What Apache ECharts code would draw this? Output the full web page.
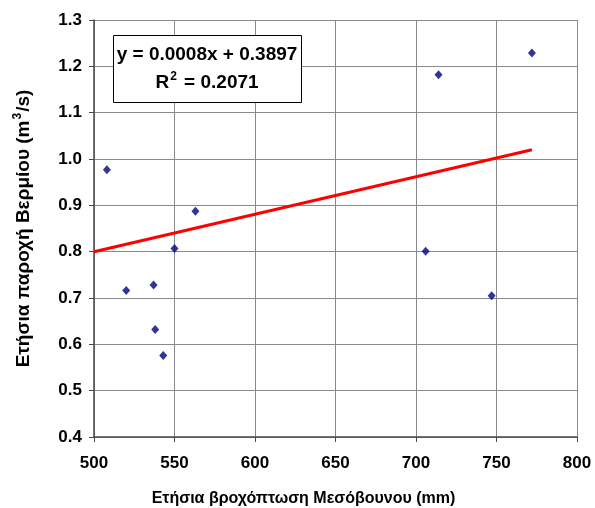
<!DOCTYPE html>
<html>
<head>
<meta charset="utf-8">
<script src="https://cdn.jsdelivr.net/npm/echarts@6/dist/echarts.min.js"></script>
<style>
html,body{margin:0;padding:0;background:#fff;}
#chart{width:595px;height:508px;}
</style>
</head>
<body>
<div id="chart"></div>
<script>
// Data
var rainfall = [508, 520, 537, 538, 543, 550, 563, 706, 714, 747, 772];
var discharge = [0.977, 0.716, 0.728, 0.632, 0.576, 0.807, 0.887, 0.801, 1.182, 0.705, 1.229];
// Trendline end points (as drawn in the reference)
var trendX = [500, 772];
var trendY = [0.80, 1.02];
var equationText = 'y = 0.0008x + 0.3897';
var r2Text = '{n|R}{s|2}{n| = 0.2071}';
var xTitle = 'Ετήσια βροχόπτωση Μεσόβουνου (mm)';
var yTitle = '{n|Ετήσια παροχή Βερμίου (m}{s|3}{n|/s)}';

var FONT = '"Liberation Sans", Arial, sans-serif';

var chart = echarts.init(document.getElementById('chart'), null, {renderer: 'canvas'});

var gridStyle = {show: true, lineStyle: {color: '#8a8a8a', width: 1, type: 'solid'}};

var option = {
  backgroundColor: '#ffffff',
  animation: false,
  grid: {left: 94, right: 18, top: 20, bottom: 71, containLabel: false, outerBoundsMode: 'none'},
  xAxis: {
    type: 'value', min: 500, max: 800, interval: 50,
    name: xTitle, nameLocation: 'middle', nameGap: 54,
    nameTextStyle: {fontFamily: FONT, fontWeight: 'bold', fontSize: 16, color: '#000', padding: [0, 64, 0, 0]},
    axisLine: {show: true, lineStyle: {color: '#4a4a4a', width: 1.5}},
    axisTick: {show: true, inside: false, length: 5, lineStyle: {color: '#4a4a4a', width: 1}},
    axisLabel: {fontFamily: FONT, fontWeight: 'bold', fontSize: 17, color: '#000', margin: 18},
    splitLine: gridStyle
  },
  yAxis: {
    type: 'value', min: 0.4, max: 1.3, interval: 0.1,
    name: yTitle, nameLocation: 'middle', nameGap: 58, nameRotate: 90,
    nameTextStyle: {fontFamily: FONT, fontWeight: 'bold', fontSize: 19, color: '#000',
      rich: {
        n: {fontFamily: FONT, fontWeight: 'bold', fontSize: 19, color: '#000', lineHeight: 24},
        s: {fontFamily: FONT, fontWeight: 'bold', fontSize: 12, color: '#000', lineHeight: 24,
            padding: [0, 1, 12, 1]}
      }},
    axisLine: {show: true, lineStyle: {color: '#4a4a4a', width: 1.5}},
    axisTick: {show: true, inside: false, length: 5, lineStyle: {color: '#4a4a4a', width: 1}},
    axisLabel: {fontFamily: FONT, fontWeight: 'bold', fontSize: 17, color: '#000', margin: 12,
      formatter: function (v) { return v.toFixed(1); }},
    splitLine: gridStyle
  },
  series: [
    {
      type: 'line',
      data: trendX.map(function (x, i) { return [x, trendY[i]]; }),
      showSymbol: false, symbol: 'none',
      lineStyle: {color: '#ff0000', width: 3},
      z: 2
    },
    {
      type: 'scatter',
      data: rainfall.map(function (x, i) { return [x, discharge[i]]; }),
      symbol: 'diamond', symbolSize: [8, 9],
      itemStyle: {color: '#000080'},
      z: 3
    }
  ],
  graphic: [
    {
      type: 'rect', left: 113, top: 35, z: 10,
      shape: {width: 188, height: 67},
      style: {fill: '#ffffff', stroke: '#000000', lineWidth: 1}
    },
    {
      type: 'text', z: 11, x: 207, y: 55,
      style: {text: equationText, fontFamily: FONT, fontWeight: 'bold', fontSize: 19,
        fill: '#000', textAlign: 'center', textVerticalAlign: 'middle'}
    },
    {
      type: 'text', z: 11, x: 207, y: 83,
      style: {text: r2Text, fontFamily: FONT, fontWeight: 'bold', fontSize: 19,
        fill: '#000', textAlign: 'center', textVerticalAlign: 'middle',
        rich: {
          n: {fontFamily: FONT, fontWeight: 'bold', fontSize: 19, fill: '#000', lineHeight: 24},
          s: {fontFamily: FONT, fontWeight: 'bold', fontSize: 12, fill: '#000', lineHeight: 24,
              padding: [0, 2, 12, 1]}
        }}
    }
  ]
};
chart.setOption(option);
</script>
</body>
</html>
